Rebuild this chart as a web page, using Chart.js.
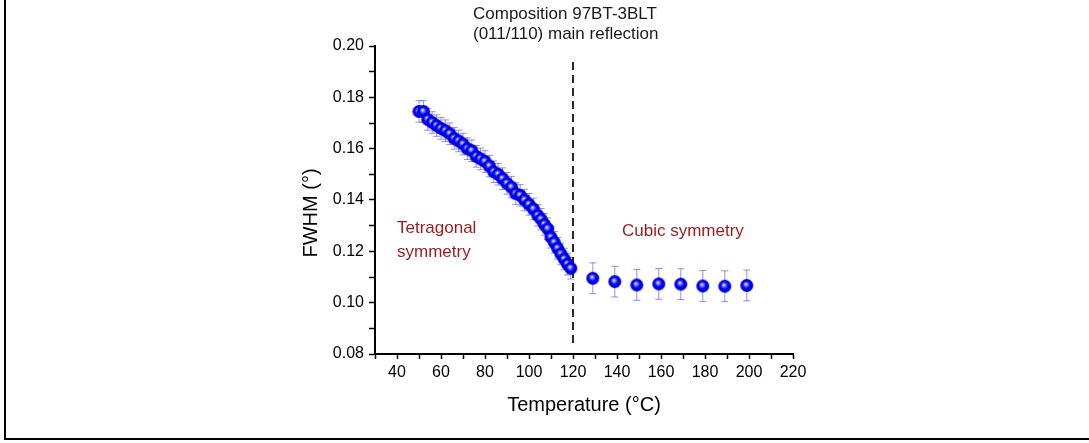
<!DOCTYPE html>
<html>
<head>
<meta charset="utf-8">
<script src="https://cdn.jsdelivr.net/npm/chart.js@4/dist/chart.umd.min.js"></script>
<style>
  html, body { margin: 0; padding: 0; background: #fff; }
  #wrap { position: relative; width: 1089px; height: 443px; }
  #frame { position: absolute; left: 4px; top: 0; width: 1085px; height: 440px;
           border-left: 2px solid #000; border-bottom: 2px solid #000; box-sizing: border-box; pointer-events: none; }
</style>
</head>
<body>
<div id="wrap">
  <canvas id="fwhmChart" width="1089" height="443"></canvas>
  <div id="frame"></div>
</div>
<script>
// tetragonal region (below transition)
const tempTet = [50, 52, 54, 56, 58, 60, 62, 64, 66, 68, 70, 72, 74, 76, 78, 80, 82, 84, 86, 88,
                 90, 92, 94, 96, 98, 100, 102, 104, 105.5, 107, 108.5, 110, 111.5, 113, 114.5, 116, 117.5, 119];
const fwhmTet = [0.1745, 0.1745, 0.1714, 0.1702, 0.1690, 0.1679, 0.1670, 0.1658, 0.1640, 0.1630,
                 0.1618, 0.1600, 0.1592, 0.1570, 0.1560, 0.1550, 0.1532, 0.1510, 0.1500, 0.1483,
                 0.1465, 0.1450, 0.1425, 0.1418, 0.1400, 0.1383, 0.1365, 0.1340, 0.1325, 0.1305,
                 0.1288, 0.1255, 0.1235, 0.1212, 0.1190, 0.1170, 0.1150, 0.1134];
const errTet = 0.0042;
// cubic region
const tempCub = [129, 139, 149, 159, 169, 179, 189, 199];
const fwhmCub = [0.1095, 0.1082, 0.1069, 0.1073, 0.1072, 0.1065, 0.1064, 0.1067];
const errCub = 0.006;

const xTicks = [40, 60, 80, 100, 120, 140, 160, 180, 200, 220];
const yTicks = [0.08, 0.10, 0.12, 0.14, 0.16, 0.18, 0.20];
const transitionT = 120;

const FONT = "'Liberation Sans', Arial, sans-serif";

function makeBall(r) {
    const c = document.createElement('canvas');
    c.width = c.height = Math.ceil(r * 2 + 2);
    const g = c.getContext('2d');
    const cx = c.width / 2;
    const grad = g.createRadialGradient(cx - 1, cx - 1.5, 0.3, cx, cx, r);
    grad.addColorStop(0, '#f0f0ff');
    grad.addColorStop(0.25, '#6a6aff');
    grad.addColorStop(0.55, '#0000ff');
    grad.addColorStop(1, '#0000c0');
    g.fillStyle = grad;
    g.beginPath();
    g.arc(cx, cx, r, 0, Math.PI * 2);
    g.fill();
    return c;
}
const ball = makeBall(6.5);

const tetPoints = tempTet.map((t, i) => ({ x: t, y: fwhmTet[i], e: errTet }));
const cubPoints = tempCub.map((t, i) => ({ x: t, y: fwhmCub[i], e: errCub }));

const errorBars = {
    id: 'errorBars',
    beforeDatasetsDraw(chart) {
        const ctx = chart.ctx;
        const xs = chart.scales.x, ys = chart.scales.y;
        ctx.save();
        ctx.strokeStyle = 'rgba(95, 95, 240, 0.7)';
        ctx.lineWidth = 1;
        chart.data.datasets.forEach(ds => {
            ds.data.forEach(p => {
                const px = xs.getPixelForValue(p.x);
                const top = ys.getPixelForValue(p.y + p.e);
                const bot = ys.getPixelForValue(p.y - p.e);
                ctx.beginPath();
                ctx.moveTo(px, top); ctx.lineTo(px, bot);
                ctx.moveTo(px - 3.5, top); ctx.lineTo(px + 3.5, top);
                ctx.moveTo(px - 3.5, bot); ctx.lineTo(px + 3.5, bot);
                ctx.stroke();
            });
        });
        ctx.restore();
    }
};

const annotations = {
    id: 'annotations',
    beforeDatasetsDraw(chart) {
        const ctx = chart.ctx;
        const xs = chart.scales.x;
        ctx.save();
        // transition line
        const lx = Math.round(xs.getPixelForValue(transitionT));
        ctx.strokeStyle = '#2a2a2a';
        ctx.lineWidth = 2;
        ctx.setLineDash([8, 5]);
        ctx.beginPath();
        ctx.moveTo(lx, 62);
        ctx.lineTo(lx, 346);
        ctx.stroke();
        ctx.restore();
    },
    afterDraw(chart) {
        const ctx = chart.ctx;
        ctx.save();
        ctx.textBaseline = 'middle';
        ctx.fillStyle = '#1a1a1a';
        ctx.font = '17px ' + FONT;
        ctx.textAlign = 'left';
        ctx.fillText('Composition 97BT-3BLT', 473, 14);
        ctx.fillText('(011/110) main reflection', 473, 34);

        ctx.fillStyle = '#9b1b1b';
        ctx.fillText('Tetragonal', 397, 228);
        ctx.fillText('symmetry', 397, 252);
        ctx.fillText('Cubic symmetry', 622, 231);

        ctx.fillStyle = '#000';
        ctx.font = '20px ' + FONT;
        ctx.translate(311, 213);
        ctx.rotate(-Math.PI / 2);
        ctx.textAlign = 'center';
        ctx.fillText('FWHM (°)', 0, 0);
        ctx.restore();
    }
};

new Chart(document.getElementById('fwhmChart'), {
    type: 'scatter',
    data: {
        datasets: [
            { label: 'Tetragonal', data: tetPoints, pointStyle: ball, pointRadius: 6 },
            { label: 'Cubic', data: cubPoints, pointStyle: ball, pointRadius: 6 }
        ]
    },
    options: {
        responsive: false,
        animation: false,
        layout: { padding: { left: 298, right: 296, top: 46, bottom: 19 } },
        plugins: { legend: { display: false }, tooltip: { enabled: false } },
        scales: {
            x: {
                type: 'linear', min: 30, max: 220,
                afterFit(scale) { scale.height = 70; },
                ticks: {
                    stepSize: 10, autoSkip: false, maxRotation: 0, padding: 4,
                    color: '#000', font: { family: FONT, size: 16 },
                    callback: v => xTicks.includes(v) ? v : ''
                },
                grid: { drawOnChartArea: false, drawTicks: true, tickLength: 5, tickColor: '#000', tickWidth: 1.5 },
                border: { display: true, color: '#000', width: 2 },
                title: { display: true, text: 'Temperature (°C)', color: '#000',
                         font: { family: FONT, size: 20 }, padding: { top: 0, bottom: 7 } }
            },
            y: {
                type: 'linear', min: 0.08, max: 0.20,
                afterFit(scale) { scale.width = 77; },
                ticks: {
                    stepSize: 0.01, autoSkip: false, padding: 5,
                    color: '#000', font: { family: FONT, size: 16 },
                    callback: v => yTicks.some(t => Math.abs(t - v) < 1e-6) ? v.toFixed(2) : ''
                },
                grid: { drawOnChartArea: false, drawTicks: true, tickLength: 6, tickColor: '#000', tickWidth: 1.5 },
                border: { display: true, color: '#000', width: 2 }
            }
        }
    },
    plugins: [errorBars, annotations]
});
</script>
</body>
</html>
